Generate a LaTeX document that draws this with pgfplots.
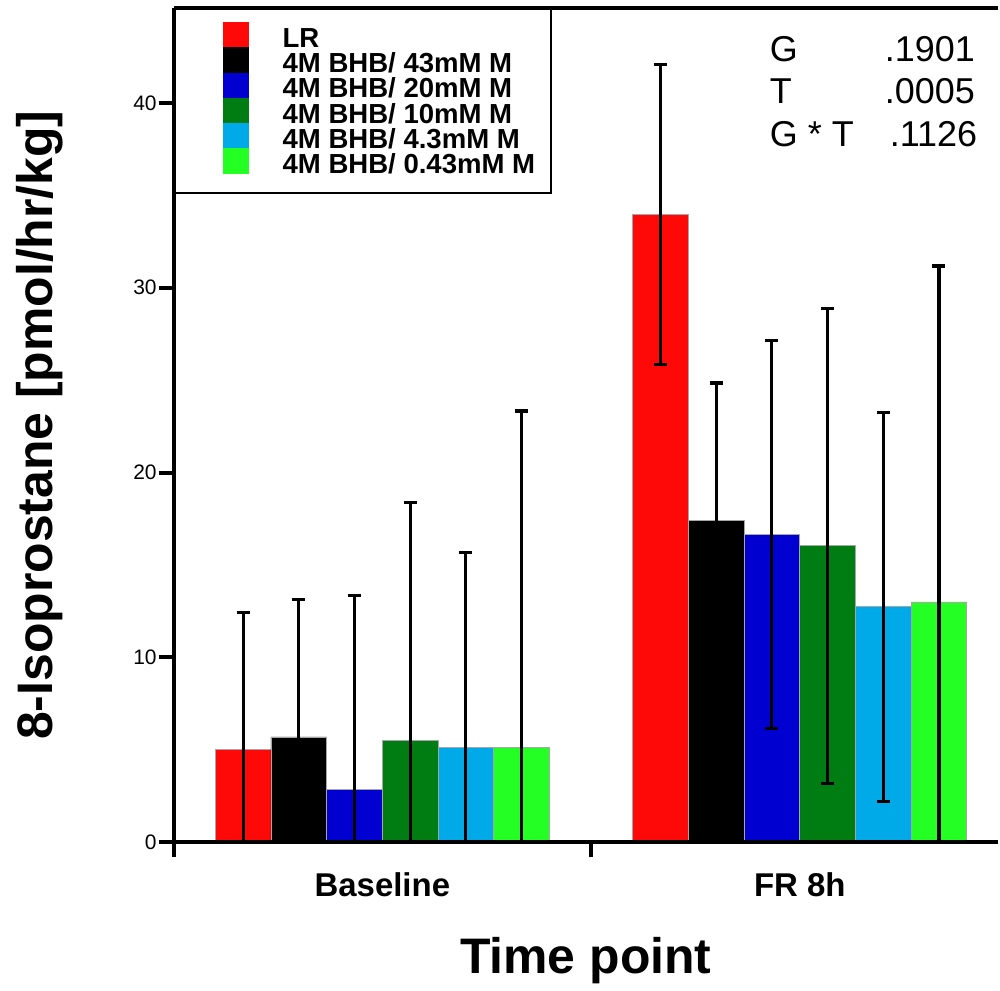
\documentclass[border=0pt]{standalone}
\usepackage{fontspec}
\setmainfont{Liberation Sans}
\usepackage{pgfplots}
\pgfplotsset{compat=1.18}
\definecolor{cRed}{RGB}{255,8,8}
\definecolor{cBlack}{RGB}{0,0,0}
\definecolor{cBlue}{RGB}{0,0,208}
\definecolor{cGreen}{RGB}{0,125,18}
\definecolor{cLBlue}{RGB}{0,170,232}
\definecolor{cLime}{RGB}{36,255,36}
\pgfplotsset{
  eb/.style={error bars/.cd, y dir=both, y explicit,
    error bar style={line width=1.6pt, black},
    error mark options={rotate=90, mark size=3.25pt, line width=1.6pt, black}},
  leg/.style={legend image code/.code={%
    \path[fill=none, draw=none] (0pt,-3.25pt) rectangle (29pt,9.5pt);
    \fill[##1, draw=none] (16pt,-3.3pt) rectangle (29pt,9.6pt);}},
}
\begin{document}
\begin{tikzpicture}
\begin{axis}[
  scale only axis, width=413pt, height=418pt,
  xmin=-0.5, xmax=1.475, ymin=0, ymax=45.13,
  ybar, bar width=27.9pt,
  axis lines=left, axis line style={-, line width=2pt},
  axis on top,
  tick align=outside, major tick length=7.5pt,
  tick style={line width=2pt, black},
  ytick={0,10,20,30,40},
  /pgf/number format/assume math mode=true,
  yticklabel style={font=\fontsize{10.5}{12}\selectfont, xshift=2.5pt},
  xtick={-0.5,0.5}, xticklabels={,},
  extra x ticks={0,1}, extra x tick labels={Baseline,FR 8h},
  extra x tick style={major tick length=0pt,
    tick label style={font=\fontsize{16.5}{18}\selectfont\bfseries, anchor=north,
      inner sep=0pt, text height=11.8pt, text depth=0pt, yshift=-15.2pt}},
  ylabel={8-Isoprostane [pmol/hr/kg]},
  every axis y label/.style={at={(axis description cs:-0.1465,0.5)}, rotate=90,
    anchor=base, font=\fontsize{25}{30}\selectfont\bfseries},
  xlabel={Time point},
  every axis x label/.style={at={(axis description cs:0.5,0)}, anchor=base,
    yshift=-65.5pt, font=\fontsize{25}{29}\selectfont\bfseries},
  legend style={at={(rel axis cs:0,1)}, anchor=north west, draw=black,
    line width=1.2pt, inner xsep=8pt, inner ysep=6.5pt, row sep=-3.35pt, column sep=17pt,
    font=\fontsize{13.8}{15}\selectfont\bfseries,
    nodes={inner sep=0pt, text height=9.5pt, text depth=3.25pt}},
  legend cell align=left,
]
\addplot[fill=cRed, draw=black!35, line width=0.4pt, bar shift=-69.75pt, leg, eb]
  coordinates {(0,5.00) +- (0,7.43) (1,33.96) +- (0,8.10)};
\addplot[fill=cBlack, draw=black!35, line width=0.4pt, bar shift=-41.85pt, leg, eb]
  coordinates {(0,5.70) +- (0,7.43) (1,17.39) +- (0,7.46)};
\addplot[fill=cBlue, draw=black!35, line width=0.4pt, bar shift=-13.95pt, leg, eb]
  coordinates {(0,2.88) +- (0,10.48) (1,16.64) +- (0,10.50)};
\addplot[fill=cGreen, draw=black!35, line width=0.4pt, bar shift=13.95pt, leg, eb]
  coordinates {(0,5.50) +- (0,12.86) (1,16.04) +- (0,12.85)};
\addplot[fill=cLBlue, draw=black!35, line width=0.4pt, bar shift=41.85pt, leg, eb]
  coordinates {(0,5.12) +- (0,10.55) (1,12.74) +- (0,10.52)};
\addplot[fill=cLime, draw=black!35, line width=0.4pt, bar shift=69.75pt, leg, eb]
  coordinates {(0,5.12) +- (0,18.21) (1,13.00) +- (0,18.17)};
\legend{LR, 4M BHB/ 43mM M, 4M BHB/ 20mM M, 4M BHB/ 10mM M, 4M BHB/ 4.3mM M, 4M BHB/ 0.43mM M}
\coordinate (sw) at (rel axis cs:0,0);
\coordinate (tl) at (rel axis cs:0,1);
\coordinate (tr) at (rel axis cs:1,1);
\node[anchor=base west, inner sep=0pt, font=\fontsize{18}{20}\selectfont] at (axis cs:0.9276,42.22) {G};
\node[anchor=base west, inner sep=0pt, font=\fontsize{18}{20}\selectfont] at (axis cs:0.9276,39.95) {T};
\node[anchor=base west, inner sep=0pt, font=\fontsize{18}{20}\selectfont] at (axis cs:0.9276,37.63) {G * T};
\node[anchor=base west, inner sep=0pt, font=\fontsize{18}{20}\selectfont] at (axis cs:1.2030,42.22) {.1901};
\node[anchor=base west, inner sep=0pt, font=\fontsize{18}{20}\selectfont] at (axis cs:1.2030,39.95) {.0005};
\node[anchor=base west, inner sep=0pt, font=\fontsize{18}{20}\selectfont] at (axis cs:1.2150,37.63) {.1126};
\end{axis}
\draw[line width=2pt] (tl) -- (tr);
\path (sw) ++(-87pt,-73.5pt) rectangle ++(500pt,495.5pt);
\end{tikzpicture}
\end{document}
